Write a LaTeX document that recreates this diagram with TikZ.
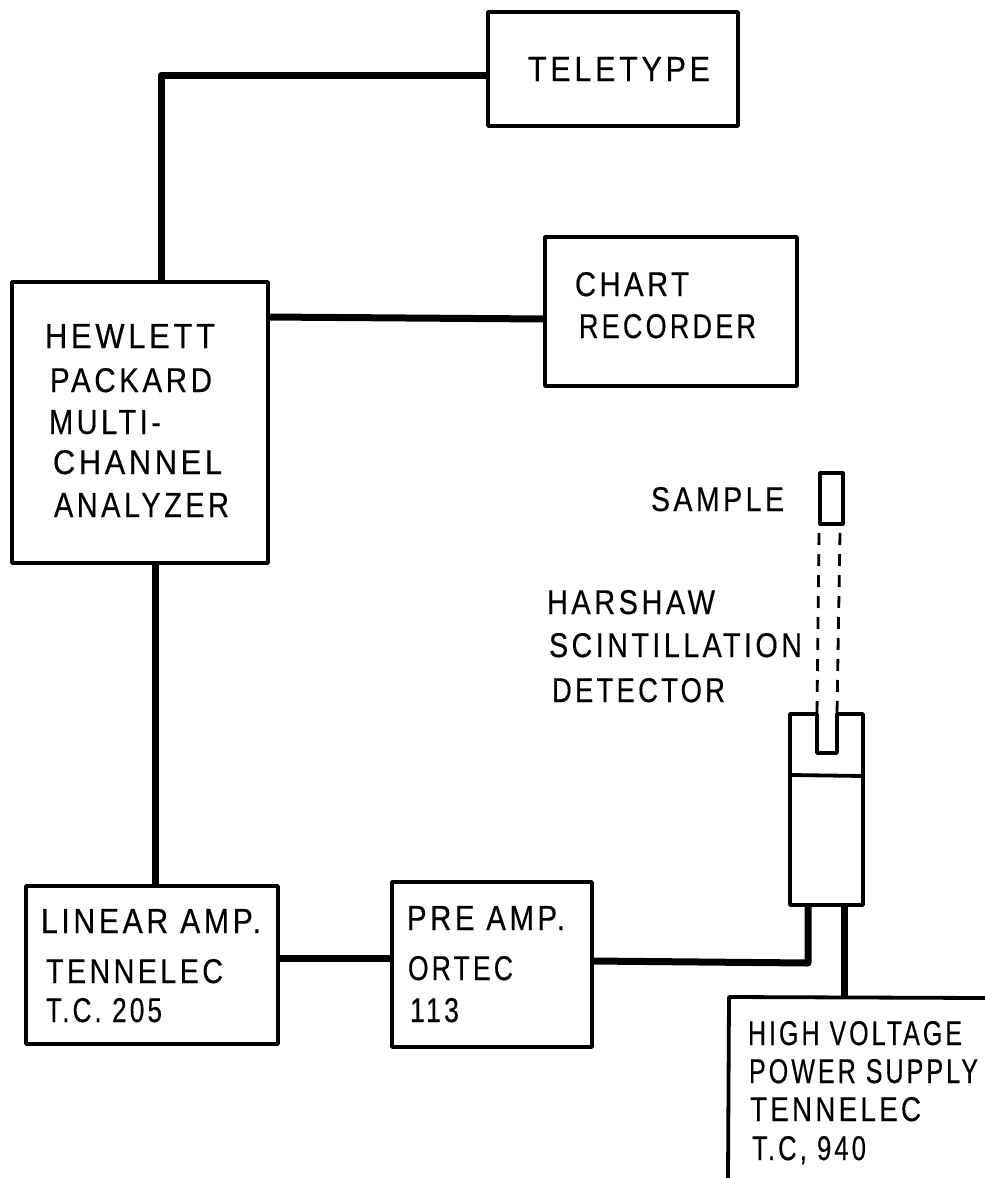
\documentclass[tikz,border=0pt]{standalone}
\usepackage{graphicx}
\usepackage{fontspec}
\setmainfont{Liberation Sans}[LetterSpace=12,FakeBold=0.4]
\newcommand{\fitlab}[2]{\resizebox{#1pt}{24pt}{#2}}
\tikzset{
  x=1pt,y=-1pt,
  boxline/.style={draw=black,line width=3.8pt,line join=round},
  blockbox/.style={boxline,inner sep=0pt,outer sep=0pt,rectangle},
  conn/.style={draw=black,line width=7pt,line cap=butt,line join=round},
  dashline/.style={draw=black,line width=2.8pt,dash pattern=on 12pt off 9pt},
  lab/.style={anchor=base west,inner sep=0pt,outer sep=0pt,text=black},
}
\begin{document}
\begin{tikzpicture}
\useasboundingbox (0,0) rectangle (985,1178);
\fill[white] (0,0) rectangle (985,1178);
% boxes
\node[blockbox,minimum width=250pt,minimum height=114pt] (tty) at (613,69) {};
\node[blockbox,minimum width=252pt,minimum height=149pt] (chart) at (671,311.5) {};
\node[blockbox,minimum width=256pt,minimum height=281pt] (mca) at (140,422.5) {};
\node[blockbox,minimum width=252pt,minimum height=158pt] (lin) at (152,965) {};
\node[blockbox,minimum width=200pt,minimum height=165pt] (pre) at (492,964.5) {};
\node[inner sep=0pt,outer sep=0pt,minimum width=73pt,minimum height=191pt] (det) at (826.5,809.5) {};
\node[blockbox,line width=3.2pt,minimum width=23pt,minimum height=51pt] (smp) at (831.5,498.5) {};
% high voltage box, cut off by the page
\coordinate (hvbl) at (728,1178);
\coordinate (hvtl) at (729,997);
\coordinate (hvtr) at (985,998);
\draw[boxline] (hvbl) -- (hvtl) -- (hvtr);
% detector body
\coordinate (ua) at (817,714);
\coordinate (ub) at (817,753);
\coordinate (uc) at (837,753);
\coordinate (ud) at (837,714);
\draw[boxline] (det.south west) -- (det.north west) -- (ua) -- (ub) -- (uc) -- (ud) -- (det.north east) -- (det.south east) -- cycle;
\coordinate (dl) at (791,775);
\coordinate (dr) at (863,776);
\draw[boxline] (dl) -- (dr);
% dashed guides
\coordinate (ga) at (819,533);
\coordinate (gb) at (840,533);
\draw[dashline] (ga) -- (ua);
\draw[dashline] (gb) -- (ud);
% connectors
\coordinate (tc) at (161,75);
\draw[conn] (mca.north -| tc) -- (tc) -- (tc -| tty.west);
\coordinate (c1) at (268,317);
\coordinate (c2) at (545,319);
\draw[conn] (c1) -- (c2);
\coordinate (m1) at (155.5,563);
\draw[conn] (m1) -- (m1 |- lin.north);
\coordinate (l1) at (278,958);
\draw[conn] (l1) -- (l1 -| pre.west);
\coordinate (dc) at (808,963);
\coordinate (p1) at (592,961);
\draw[conn] (p1) -- (dc) -- (dc |- det.south);
\coordinate (hv) at (844,997);
\draw[conn] (hv |- det.south) -- (hv);
% text
\node[lab] (t1) at (528,81) {\fitlab{182}{TELETYPE}};
\node[lab] (t2) at (575,296) {\fitlab{114}{CHART}};
\node[lab] (t3) at (579,338) {\fitlab{177}{RECORDER}};
\node[lab] (t4) at (45,348) {\fitlab{170}{HEWLETT}};
\node[lab] (t5) at (50,392) {\fitlab{162}{PACKARD}};
\node[lab] (t6) at (49,434) {\fitlab{112}{MULTI-}};
\node[lab] (t7) at (53,474) {\fitlab{169}{CHANNEL}};
\node[lab] (t8) at (54,517) {\fitlab{175}{ANALYZER}};
\node[lab] (t9) at (651,511) {\fitlab{133}{SAMPLE}};
\node[lab] (t10) at (547,614) {\fitlab{168}{HARSHAW}};
\node[lab] (t11) at (549,657) {\fitlab{253}{SCINTILLATION}};
\node[lab] (t12) at (552,702) {\fitlab{173}{DETECTOR}};
\node[lab] (t13) at (41,933) {\fitlab{220}{LINEAR AMP.}};
\node[lab] (t14) at (46,983) {\fitlab{177}{TENNELEC}};
\node[lab] (t15) at (46,1022) {\fitlab{116}{T.C. 205}};
\node[lab] (t16) at (407,930) {\fitlab{158}{PRE AMP.}};
\node[lab] (t17) at (408,980) {\fitlab{105}{ORTEC}};
\node[lab] (t18) at (410,1022) {\fitlab{49}{113}};
\node[lab] (t19) at (748,1045) {\fitlab{214}{HIGH VOLTAGE}};
\node[lab] (t20) at (749,1083) {\fitlab{229}{POWER SUPPLY}};
\node[lab] (t21) at (750,1121) {\fitlab{171}{TENNELEC}};
\node[lab] (t22) at (752,1160) {\fitlab{114}{T.C, 940}};
\end{tikzpicture}
\end{document}
